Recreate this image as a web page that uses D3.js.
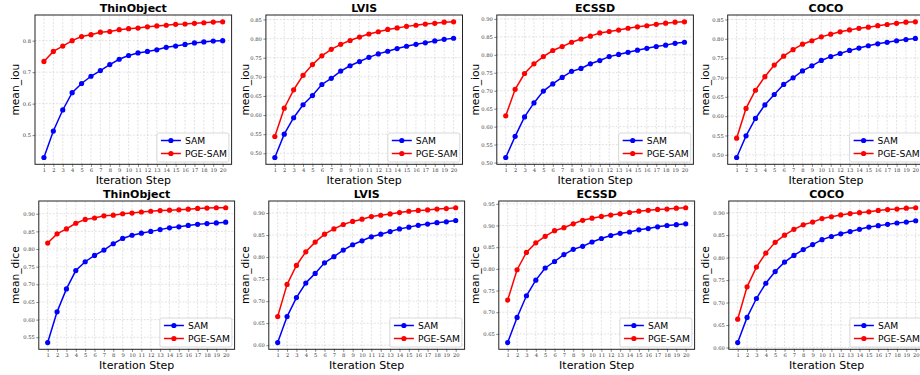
<!DOCTYPE html>
<html>
<head>
<meta charset="utf-8">
<script src="https://cdn.jsdelivr.net/npm/d3@7"></script>
<style>
  body { margin: 0; background: #fff; }
  svg { display: block; }
  text { font-family: "DejaVu Sans", sans-serif; }
</style>
</head>
<body>
<svg id="chart" width="920" height="375"></svg>
<script>
const steps = [1, 2, 3, 4, 5, 6, 7, 8, 9, 10, 11, 12, 13, 14, 15, 16, 17, 18, 19, 20]
const datasets = ['ThinObject', 'LVIS', 'ECSSD', 'COCO']
const seriesNames = ['SAM', 'PGE-SAM']
const seriesColors = ['#0000ff', '#ff0000']

// mean_iou
const samIouThin = [0.429, 0.513, 0.580, 0.635, 0.664, 0.687, 0.705, 0.724, 0.741, 0.753, 0.761, 0.766, 0.771, 0.779, 0.783, 0.788, 0.793, 0.796, 0.799, 0.800]
const pgeIouThin = [0.734, 0.766, 0.783, 0.800, 0.813, 0.819, 0.827, 0.829, 0.835, 0.838, 0.840, 0.844, 0.847, 0.849, 0.852, 0.853, 0.855, 0.857, 0.859, 0.860]
const samIouLvis = [0.489, 0.550, 0.593, 0.627, 0.651, 0.680, 0.696, 0.715, 0.729, 0.740, 0.751, 0.760, 0.767, 0.774, 0.780, 0.785, 0.789, 0.794, 0.798, 0.801]
const pgeIouLvis = [0.544, 0.618, 0.666, 0.704, 0.732, 0.755, 0.772, 0.785, 0.795, 0.804, 0.812, 0.818, 0.824, 0.828, 0.832, 0.835, 0.838, 0.840, 0.843, 0.844]
const samIouEcssd = [0.514, 0.573, 0.627, 0.666, 0.699, 0.719, 0.737, 0.754, 0.762, 0.775, 0.784, 0.795, 0.801, 0.807, 0.813, 0.818, 0.823, 0.827, 0.832, 0.835]
const pgeIouEcssd = [0.630, 0.704, 0.748, 0.775, 0.795, 0.812, 0.823, 0.835, 0.844, 0.852, 0.861, 0.865, 0.869, 0.874, 0.878, 0.881, 0.885, 0.888, 0.891, 0.892]
const samIouCoco = [0.493, 0.549, 0.594, 0.629, 0.656, 0.682, 0.699, 0.717, 0.730, 0.744, 0.754, 0.762, 0.770, 0.776, 0.782, 0.787, 0.791, 0.795, 0.798, 0.801]
const pgeIouCoco = [0.543, 0.620, 0.667, 0.702, 0.732, 0.755, 0.772, 0.786, 0.795, 0.805, 0.812, 0.818, 0.823, 0.827, 0.830, 0.834, 0.837, 0.840, 0.843, 0.844]

// mean_dice
const samDiceThin = [0.535, 0.622, 0.687, 0.739, 0.764, 0.782, 0.797, 0.815, 0.830, 0.839, 0.845, 0.850, 0.855, 0.860, 0.863, 0.867, 0.870, 0.872, 0.874, 0.876]
const pgeDiceThin = [0.817, 0.843, 0.857, 0.873, 0.884, 0.888, 0.894, 0.896, 0.900, 0.902, 0.905, 0.907, 0.909, 0.910, 0.911, 0.913, 0.915, 0.916, 0.917, 0.917]
const samDiceLvis = [0.606, 0.665, 0.708, 0.741, 0.763, 0.787, 0.801, 0.816, 0.828, 0.837, 0.846, 0.852, 0.858, 0.864, 0.868, 0.872, 0.875, 0.878, 0.880, 0.883]
const pgeDiceLvis = [0.665, 0.738, 0.781, 0.812, 0.834, 0.852, 0.864, 0.874, 0.881, 0.886, 0.892, 0.895, 0.898, 0.901, 0.904, 0.906, 0.907, 0.909, 0.910, 0.912]
const samDiceEcssd = [0.630, 0.688, 0.738, 0.774, 0.802, 0.817, 0.833, 0.845, 0.852, 0.862, 0.870, 0.877, 0.882, 0.885, 0.890, 0.893, 0.897, 0.900, 0.902, 0.904]
const pgeDiceEcssd = [0.728, 0.798, 0.838, 0.860, 0.875, 0.888, 0.895, 0.904, 0.912, 0.917, 0.921, 0.924, 0.927, 0.930, 0.933, 0.935, 0.937, 0.938, 0.940, 0.941]
const samDiceCoco = [0.611, 0.667, 0.709, 0.743, 0.769, 0.790, 0.805, 0.818, 0.829, 0.840, 0.847, 0.853, 0.858, 0.863, 0.868, 0.871, 0.874, 0.877, 0.879, 0.882]
const pgeDiceCoco = [0.663, 0.735, 0.779, 0.810, 0.834, 0.850, 0.863, 0.873, 0.879, 0.887, 0.891, 0.895, 0.898, 0.900, 0.902, 0.905, 0.907, 0.908, 0.910, 0.911]

// y tick labels per panel
const iouTicks = [
  [0.5, 0.6, 0.7, 0.8],
  [0.50, 0.55, 0.60, 0.65, 0.70, 0.75, 0.80, 0.85],
  [0.50, 0.55, 0.60, 0.65, 0.70, 0.75, 0.80, 0.85, 0.90],
  [0.50, 0.55, 0.60, 0.65, 0.70, 0.75, 0.80, 0.85]
]
const diceTicks = [
  [0.55, 0.60, 0.65, 0.70, 0.75, 0.80, 0.85, 0.90],
  [0.60, 0.65, 0.70, 0.75, 0.80, 0.85, 0.90],
  [0.65, 0.70, 0.75, 0.80, 0.85, 0.90, 0.95],
  [0.60, 0.65, 0.70, 0.75, 0.80, 0.85, 0.90]
]

const rows = [
  {
    label: 'mean_iou', top: 15, bottom: 164.3, left0: 35, step: 230.9, width: 196.6,
    ticks: iouTicks,
    series: [[samIouThin, pgeIouThin], [samIouLvis, pgeIouLvis], [samIouEcssd, pgeIouEcssd], [samIouCoco, pgeIouCoco]]
  },
  {
    label: 'mean_dice', top: 201, bottom: 349.3, left0: 38.8, step: 230, width: 195.8,
    ticks: diceTicks,
    series: [[samDiceThin, pgeDiceThin], [samDiceLvis, pgeDiceLvis], [samDiceEcssd, pgeDiceEcssd], [samDiceCoco, pgeDiceCoco]]
  }
]

const svg = d3.select('#chart')

rows.forEach(row => {
  datasets.forEach((name, c) => {
    const left = row.left0 + c * row.step
    const right = left + row.width
    const vals = row.series[c]

    const x = d3.scaleLinear().domain([0.05, 20.95]).range([left, right])
    // matplotlib風の5%マージン
    const lo = d3.min(vals.flat()), hi = d3.max(vals.flat())
    const pad = (hi - lo) * 0.05
    const y = d3.scaleLinear().domain([lo - pad, hi + pad]).range([row.bottom, row.top])
    const ticks = row.ticks[c]
    const fmt = c === 0 && row.label === 'mean_iou' ? d3.format('.1f') : d3.format('.2f')

    const g = svg.append('g')

    // グリッド
    g.append('g').selectAll('line.gx').data(steps).enter().append('line')
      .attr('x1', d => x(d)).attr('x2', d => x(d))
      .attr('y1', row.top).attr('y2', row.bottom)
      .attr('stroke', '#cfcfcf').attr('stroke-width', 0.6).attr('stroke-dasharray', '2,1.5')
    g.append('g').selectAll('line.gy').data(ticks).enter().append('line')
      .attr('x1', left).attr('x2', right)
      .attr('y1', d => y(d)).attr('y2', d => y(d))
      .attr('stroke', '#cfcfcf').attr('stroke-width', 0.6).attr('stroke-dasharray', '2,1.5')

    // 軸
    const xAxis = g.append('g')
      .attr('transform', `translate(0,${row.bottom})`)
      .call(d3.axisBottom(x).tickValues(steps).tickSize(2.5).tickPadding(1.5).tickFormat(d3.format('d')))
    const yAxis = g.append('g')
      .attr('transform', `translate(${left},0)`)
      .call(d3.axisLeft(y).tickValues(ticks).tickSize(2.5).tickPadding(1.5).tickFormat(fmt))
    ;[xAxis, yAxis].forEach(a => {
      a.select('.domain').remove()
      a.selectAll('line').attr('stroke', '#333').attr('stroke-width', 0.6)
      a.selectAll('text').attr('font-size', 5.2).attr('fill', '#333')
        .style('font-family', '"DejaVu Serif", serif')
    })

    // 枠
    g.append('rect')
      .attr('x', left).attr('y', row.top)
      .attr('width', row.width).attr('height', row.bottom - row.top)
      .attr('fill', 'none').attr('stroke', '#222').attr('stroke-width', 1)

    // 線とマーカー
    const line = d3.line().x((d, i) => x(steps[i])).y(d => y(d))
    vals.forEach((s, k) => {
      g.append('path').datum(s)
        .attr('d', line).attr('fill', 'none')
        .attr('stroke', seriesColors[k]).attr('stroke-width', 1.5)
      g.append('g').selectAll('circle').data(s).enter().append('circle')
        .attr('cx', (d, i) => x(steps[i])).attr('cy', d => y(d))
        .attr('r', 2.6).attr('fill', seriesColors[k])
    })

    // タイトル・ラベル
    g.append('text')
      .attr('x', (left + right) / 2).attr('y', row.top - 3)
      .attr('text-anchor', 'middle').attr('font-size', 11).attr('font-weight', 'bold')
      .text(name)
    g.append('text')
      .attr('x', (left + right) / 2).attr('y', row.bottom + 19.5)
      .attr('text-anchor', 'middle').attr('font-size', 11)
      .text('Iteration Step')
    const ylx = c * 230 + 18.5
    g.append('text')
      .attr('transform', `translate(${ylx},${(row.top + row.bottom) / 2}) rotate(-90)`)
      .attr('text-anchor', 'middle').attr('font-size', 10.7)
      .text(row.label)

    // 凡例
    const lw = 72, lh = 29
    const lx = right - 2.7 - lw, ly = row.bottom - 2.3 - lh
    const leg = g.append('g').attr('transform', `translate(${lx},${ly})`)
    leg.append('rect')
      .attr('width', lw).attr('height', lh).attr('rx', 2)
      .attr('fill', '#fff').attr('fill-opacity', 0.85)
      .attr('stroke', '#d0d0d0').attr('stroke-width', 0.8)
    seriesNames.forEach((sn, k) => {
      const cy = 7.5 + k * 13
      leg.append('line').attr('x1', 4).attr('x2', 24).attr('y1', cy).attr('y2', cy)
        .attr('stroke', seriesColors[k]).attr('stroke-width', 1.5)
      leg.append('circle').attr('cx', 14).attr('cy', cy).attr('r', 2.6).attr('fill', seriesColors[k])
      leg.append('text').attr('x', 28).attr('y', cy + 3.2)
        .attr('font-size', 9.2).text(sn)
    })
  })
})
</script>
</body>
</html>
